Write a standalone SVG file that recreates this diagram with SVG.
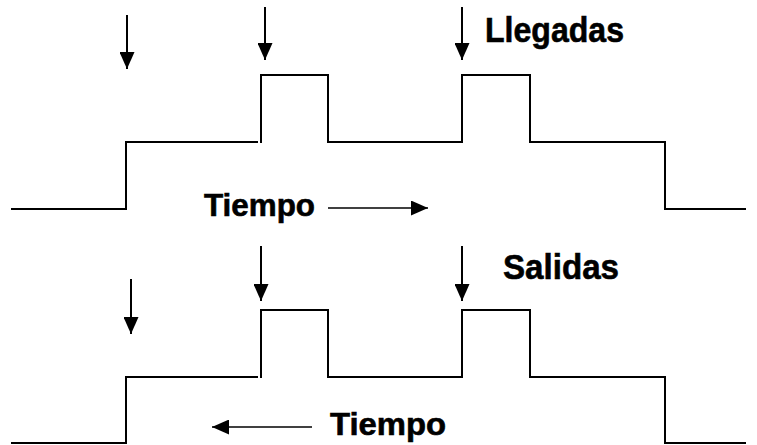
<svg xmlns="http://www.w3.org/2000/svg" width="757" height="445" viewBox="0 0 757 445">
  <style>
    .wave { fill: none; stroke: #000; stroke-width: 2; stroke-linejoin: miter; stroke-linecap: square; }
    .arrow { fill: none; stroke: #000; stroke-width: 2; marker-end: url(#head); }
    .label { font-family: "Liberation Sans", Arial, sans-serif; font-weight: bold; fill: #000; stroke: #000; stroke-width: 0.6; }
    .big { font-size: 35px; }
    .small { font-size: 31px; }
  </style>
  <defs>
    <marker id="head" viewBox="0 0 17 15" refX="17" refY="7.5" markerWidth="17" markerHeight="15" markerUnits="userSpaceOnUse" orient="auto">
      <path d="M0,0 L17,7.5 L0,15 z" fill="#000"/>
    </marker>
  </defs>

  <!-- upper signal: arrivals -->
  <g id="arrivals-wave">
    <path class="wave" d="M12,209 H126 V142 H257"/>
    <path class="wave" d="M261,142 V75 H328 V142 H462 V75 H530 V142 H665 V209 H745"/>
  </g>

  <!-- lower signal: departures -->
  <g id="departures-wave">
    <path class="wave" d="M12,443 H126 V377 H257"/>
    <path class="wave" d="M261,377 V310 H328 V377 H462 V310 H530 V377 H665 V443 H745"/>
  </g>

  <!-- event markers and time arrows -->
  <g id="connectors">
    <line class="arrow" x1="127" y1="15" x2="127" y2="69"/>
    <line class="arrow" x1="265" y1="7" x2="265" y2="60"/>
    <line class="arrow" x1="462" y1="7" x2="462" y2="60"/>
    <line class="arrow" x1="131" y1="279" x2="131" y2="334"/>
    <line class="arrow" x1="261" y1="246" x2="261" y2="301"/>
    <line class="arrow" x1="462" y1="246" x2="462" y2="301"/>
    <line class="arrow" x1="328" y1="208" x2="428" y2="208" style="stroke-width:1.5"/>
    <line class="arrow" x1="312" y1="427" x2="212" y2="427" style="stroke-width:1.5"/>
  </g>

  <g id="label-llegadas">
    <text class="label big" x="485" y="42" textLength="139" lengthAdjust="spacingAndGlyphs">Llegadas</text>
  </g>
  <g id="label-salidas">
    <text class="label big" x="503" y="279" textLength="116" lengthAdjust="spacingAndGlyphs">Salidas</text>
  </g>
  <g id="label-tiempo-top">
    <text class="label small" x="204" y="216" textLength="111" lengthAdjust="spacingAndGlyphs">Tiempo</text>
  </g>
  <g id="label-tiempo-bottom">
    <text class="label small" x="330" y="435" textLength="116" lengthAdjust="spacingAndGlyphs">Tiempo</text>
  </g>
</svg>
